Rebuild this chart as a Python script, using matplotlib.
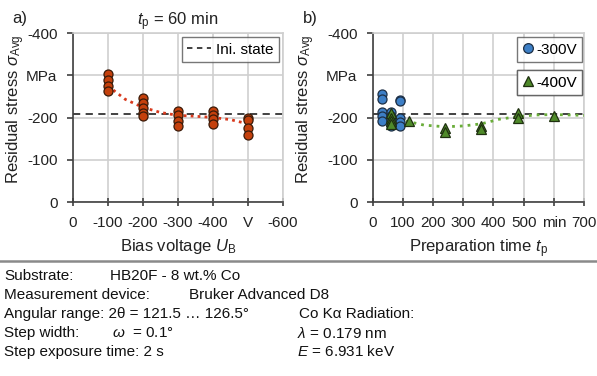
import matplotlib
matplotlib.use("Agg")
import matplotlib.pyplot as plt
from matplotlib.lines import Line2D

plt.rcParams["font.family"] = ["Liberation Sans", "DejaVu Sans"]
plt.rcParams["mathtext.fontset"] = "custom"
plt.rcParams["mathtext.it"] = "Liberation Sans:italic"
plt.rcParams["mathtext.rm"] = "Liberation Sans"

# a) residual stress vs. bias voltage (tp = 60 min)
bias_x = [-100] * 4 + [-200] * 5 + [-300] * 4 + [-400] * 4 + [-500] * 4
bias_y = [-302, -289, -275, -263,
          -246, -234, -222, -211, -204,
          -216, -206, -192, -181,
          -216, -207, -197, -185,
          -200, -195, -174, -158]
bias_trend_x = [-100, -150, -200, -250, -300, -350, -400, -450, -500]
bias_trend_y = [-275, -243, -224, -212, -205, -203, -200, -195, -185]

# b) residual stress vs. preparation time
t300_x = [30] * 5 + [60] * 5 + [90] * 5
t300_y = [-256, -244, -213, -203, -191,
          -214, -204, -193, -185, -180,
          -242, -238, -200, -190, -180]
t400_x = [60, 60, 60, 60, 120, 240, 240, 360, 360, 480, 480, 600]
t400_y = [-210, -200, -192, -185, -192, -176, -166, -181, -173, -210, -198, -204]
t_trend_x = [60, 120, 170, 240, 300, 360, 420, 480, 540, 600, 700]
t_trend_y = [-200, -190, -182, -178, -180, -185, -196, -202, -206, -207, -205]

ini_state = -208

bias_ticks = [0, -100, -200, -300, -400, -500, -600]
bias_labels = ["0", "-100", "-200", "-300", "-400", "V", "-600"]
time_ticks = [0, 100, 200, 300, 400, 500, 600, 700]
time_labels = ["0", "100", "200", "300", "400", "500", "min", "700"]
stress_ticks = [0, -100, -200, -300, -400]
stress_labels = ["0", "-100", "-200", "MPa", "-400"]

info_left = ["Substrate:", "Measurement device:", "Angular range: 2θ = 121.5 … 126.5°",
             "Step width:", "Step exposure time: 2 s"]

RED = "#c4400c"
BLUE = "#3d7fc6"
GREEN = "#4f8a2a"
GRID = "#cfcfcf"
SPINE = "#404040"
TXT = "#222222"

W, H = 597, 376
fig = plt.figure(figsize=(W / 100, H / 100), dpi=100)


def style_axes(ax, xticks, xlabels, ylab_x):
    ax.set_ylim(0, -400)
    ax.set_yticks(stress_ticks)
    ax.set_yticklabels(stress_labels)
    ax.set_xticks(xticks)
    ax.set_xticklabels(xlabels)
    ax.grid(True, color=GRID, lw=1.2)
    ax.set_axisbelow(True)
    for s in ["top", "right"]:
        ax.spines[s].set_color(GRID)
        ax.spines[s].set_linewidth(1.2)
    for s in ["left", "bottom"]:
        ax.spines[s].set_color(SPINE)
        ax.spines[s].set_linewidth(1.2)
    ax.tick_params(axis="x", direction="inout", length=6, width=1.2, color=SPINE,
                   labelsize=11, pad=7, labelcolor=TXT)
    ax.tick_params(axis="y", direction="out", length=4, width=1.2, color=SPINE,
                   labelsize=11, pad=7, labelcolor=TXT)
    ax.set_ylabel(r"Residual stress $\sigma_{\mathrm{Avg}}$", fontsize=12,
                  color=TXT, labelpad=0)
    ax.yaxis.set_label_coords(ylab_x, 0.55)


# left panel
ax1 = fig.add_axes([72.7 / W, 1 - 202 / H, 210.3 / W, 169 / H])
ax1.set_xlim(0, -600)
style_axes(ax1, bias_ticks, bias_labels, -0.215)
ax1.axhline(ini_state, color="#333333", ls=(0, (4, 3)), lw=1.3, zorder=2)
ax1.plot(bias_trend_x, bias_trend_y, ls=(0, (1, 1.5)), color="#d83a1e", lw=2, zorder=3)
ax1.plot(bias_x, bias_y, "o", ms=6.5, mfc=RED, mec="#3a1a08", mew=0.9, zorder=4)
ax1.set_xlabel(r"Bias voltage $U_{\mathrm{B}}$", fontsize=12, color=TXT)
ax1.xaxis.set_label_coords(0.5, -0.21)
ax1.set_title(r"$t_{\mathrm{p}}$ = 60 min", fontsize=12, color=TXT, pad=5)
leg1 = ax1.legend([Line2D([], [], color="#333333", ls=(0, (3, 2.5)), lw=1.3)], ["Ini. state"],
                  loc="upper right", bbox_to_anchor=(0.98, 0.975), fontsize=11,
                  handlelength=1.6, handletextpad=0.3, fancybox=False, borderpad=0.35,
                  borderaxespad=0)
leg1.get_frame().set_edgecolor("#555555")
leg1.get_frame().set_linewidth(1.0)

# right panel
ax2 = fig.add_axes([372.7 / W, 1 - 202 / H, 211.3 / W, 169 / H])
ax2.set_xlim(0, 700)
style_axes(ax2, time_ticks, time_labels, -0.265)
ax2.axhline(ini_state, color="#333333", ls=(0, (4, 3)), lw=1.3, zorder=2)
ax2.plot(t_trend_x, t_trend_y, ls=(0, (1, 1.8)), color="#6aad3a", lw=2, zorder=3)
ax2.plot(t300_x, t300_y, "o", ms=6.5, mfc=BLUE, mec="#1d2f45", mew=0.9, zorder=4)
ax2.plot(t400_x, t400_y, "^", ms=6.7, mfc=GREEN, mec="#1f3010", mew=0.9, zorder=5)
ax2.set_xlabel(r"Preparation time $t_{\mathrm{p}}$", fontsize=12, color=TXT)
ax2.xaxis.set_label_coords(0.5, -0.21)

h300 = Line2D([], [], ls="none", marker="o", ms=7, mfc=BLUE, mec="#1d2f45", mew=0.9)
h400 = Line2D([], [], ls="none", marker="^", ms=7, mfc=GREEN, mec="#1f3010", mew=0.9)
for h, lab, y in [(h300, "-300V", 0.975), (h400, "-400V", 0.78)]:
    lg = ax2.legend([h], [lab], loc="upper right", bbox_to_anchor=(0.99, y), fontsize=11,
                    handlelength=0.7, handletextpad=0.2, fancybox=False, borderpad=0.35,
                    borderaxespad=0)
    lg.get_frame().set_edgecolor("#555555")
    lg.get_frame().set_linewidth(1.0)
    ax2.add_artist(lg)

fig.text(12 / W, 1 - 18 / H, "a)", fontsize=12, va="center", color=TXT)
fig.text(303 / W, 1 - 18 / H, "b)", fontsize=12, va="center", color=TXT)

# separator and measurement info
fig.add_artist(Line2D([0, 1], [1 - 261 / H, 1 - 261 / H], color="#8a8a8a", lw=1.8))
rows = [276, 295, 314, 333, 352]
fs = 11
for y, s in zip(rows, info_left):
    fig.text(4 / W, 1 - y / H, s, fontsize=fs, va="center", color="#111111")
fig.text(110 / W, 1 - rows[0] / H, "HB20F - 8 wt.% Co", fontsize=fs, va="center", color="#111111")
fig.text(189 / W, 1 - rows[1] / H, "Bruker Advanced D8", fontsize=fs, va="center", color="#111111")
fig.text(299 / W, 1 - rows[2] / H, "Co Kα Radiation:", fontsize=fs, va="center", color="#111111")
fig.text(112 / W, 1 - rows[3] / H, r"$\omega$  = 0.1°", fontsize=fs, va="center", color="#111111")
fig.text(297 / W, 1 - rows[3] / H, r"$\lambda$ = 0.179 nm", fontsize=fs, va="center", color="#111111")
fig.text(297 / W, 1 - rows[4] / H, r"$E$ = 6.931 keV", fontsize=fs, va="center", color="#111111")

fig.savefig("out.png", dpi=100)
